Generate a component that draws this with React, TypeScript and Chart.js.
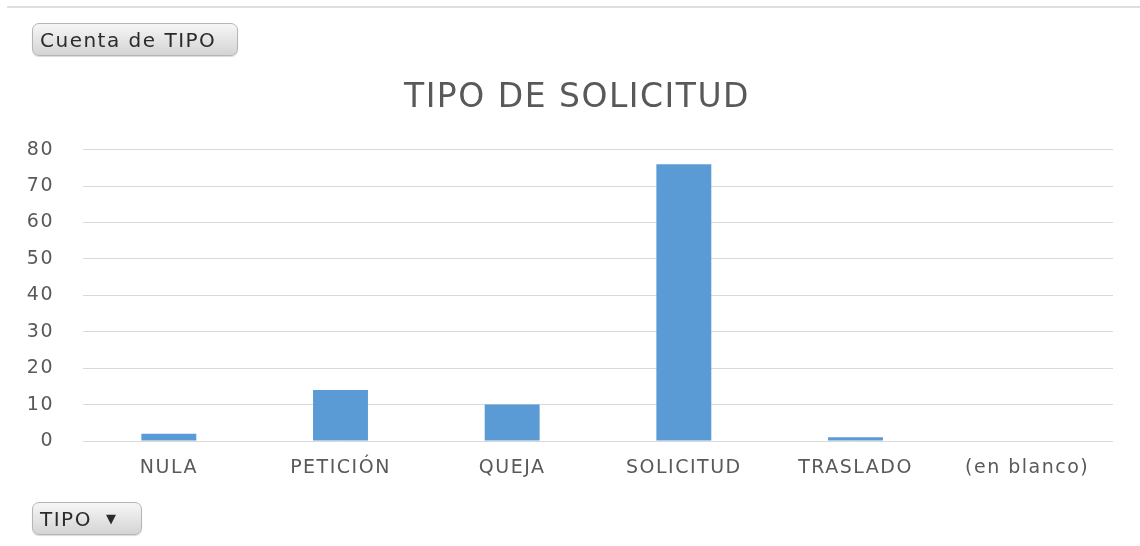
import React, { useEffect, useRef } from "react";
import { Chart, registerables } from "chart.js";

Chart.register(...registerables);

const categories = ["NULA", "PETICIÓN", "QUEJA", "SOLICITUD", "TRASLADO", "(en blanco)"];
const counts = [2, 14, 10, 76, 1, 0];
const yTicks = [0, 10, 20, 30, 40, 50, 60, 70, 80];

const FONT = "'DejaVu Sans', sans-serif";
const TEXT = "#595959";

const spacingPlugin = {
  id: "spacing",
  beforeUpdate(chart: any) {
    (chart.ctx as any).letterSpacing = "1.5px";
  },
  afterLayout(chart: any) {
    if (chart.titleBlock) {
      chart.titleBlock.left = 41;
    }
  },
  beforeDraw(chart: any) {
    (chart.ctx as any).letterSpacing = "1.5px";
  },
};

const btnStyle: React.CSSProperties = {
  position: "absolute",
  boxSizing: "border-box",
  border: "1px solid #b5b5b5",
  borderRadius: 7,
  background: "linear-gradient(#f6f6f6, #d4d4d4)",
  fontFamily: FONT,
  fontSize: 20,
  color: "#2b2b2b",
  letterSpacing: "1.5px",
  display: "flex",
  alignItems: "center",
  boxShadow: "0 1px 1px rgba(0,0,0,0.15)",
};

export default function App() {
  const ref = useRef<HTMLCanvasElement | null>(null);
  useEffect(() => {
    if (!ref.current) return;
    const chart = new Chart(ref.current, {
      type: "bar",
      data: {
        labels: categories,
        datasets: [
          {
            data: counts,
            backgroundColor: "#5b9bd5",
            borderColor: "#5b9bd5",
            borderWidth: 0,
            categoryPercentage: 1,
            barPercentage: 0.32,
          },
        ],
      },
      plugins: [spacingPlugin],
      options: {
        responsive: false,
        animation: false,
        layout: { padding: { left: 0, right: 27, top: 0, bottom: 0 } },
        plugins: {
          legend: { display: false },
          tooltip: { enabled: false },
          title: {
            display: true,
            text: "TIPO DE SOLICITUD",
            color: TEXT,
            font: { family: FONT, size: 33, weight: "normal" },
            padding: { top: 79, bottom: 31 },
          },
        },
        scales: {
          x: {
            grid: { display: false, drawTicks: false },
            border: { display: false },
            ticks: {
              color: TEXT,
              font: { family: FONT, size: 19 },
              padding: 16,
              maxRotation: 0,
              autoSkip: false,
            },
            afterFit: (s: any) => {
              s.height = 105;
            },
          },
          y: {
            min: 0,
            max: 80,
            afterBuildTicks: (s: any) => {
              s.ticks = yTicks.map((v) => ({ value: v }));
            },
            grid: { color: "#d9d9d9", lineWidth: 1, drawTicks: false },
            border: { display: false },
            ticks: {
              color: TEXT,
              font: { family: FONT, size: 19 },
              padding: 29,
            },
            afterFit: (s: any) => {
              s.width = 83;
            },
          },
        },
      },
    });
    return () => chart.destroy();
  }, []);

  return (
    <div style={{ position: "fixed", left: 0, top: 0, width: 1140, height: 546, background: "#fff", overflow: "hidden" }}>
      <div style={{ position: "absolute", left: 7, top: 6, width: 1133, height: 2, background: "#dedede" }} />
      <canvas ref={ref} width={1140} height={546} style={{ position: "absolute", left: 0, top: 0, width: 1140, height: 546 }} />
      <div style={{ ...btnStyle, left: 32, top: 23, width: 206, height: 33, paddingLeft: 7 }}>Cuenta de TIPO</div>
      <div style={{ ...btnStyle, left: 32, top: 502, width: 110, height: 33, paddingLeft: 7 }}>
        <span>TIPO</span>
        <span style={{ marginLeft: 14, fontSize: 13 }}>▼</span>
      </div>
    </div>
  );
}
